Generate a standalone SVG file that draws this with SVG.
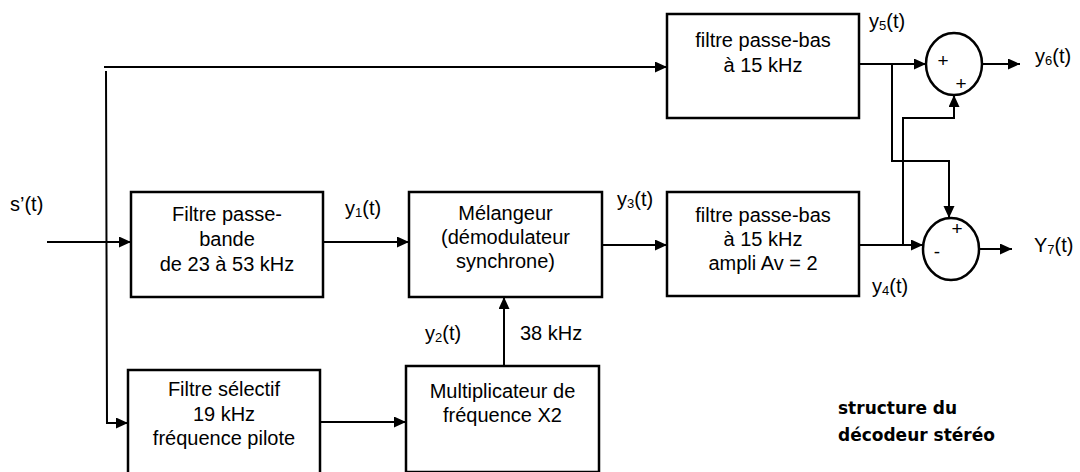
<svg xmlns="http://www.w3.org/2000/svg" width="1080" height="472" viewBox="0 0 1080 472">
<style>
.box{fill:#fff;stroke:#000;stroke-width:2.5}
.sum{fill:#fff;stroke:#000;stroke-width:2.5}
.ln{fill:none;stroke:#000;stroke-width:2}
text{font-family:"Liberation Sans",Arial,sans-serif;font-size:20px;fill:#000}
.c{text-anchor:middle}
.sub{font-size:13px}
.sg{font-size:19px}
.note{font-family:"Comic Sans MS","DejaVu Sans",sans-serif;font-weight:bold;font-size:17px}
</style>
<defs>
<marker id="ah" markerUnits="userSpaceOnUse" markerWidth="13" markerHeight="12" refX="12" refY="5.5" orient="auto">
<path d="M0,0 L12,5.5 L0,11 z" fill="#000"/>
</marker>
</defs>
<rect width="1080" height="472" fill="#fff"/>
<g id="connectors">
<line class="ln" x1="47" y1="242" x2="131" y2="242" marker-end="url(#ah)"/>
<line class="ln" x1="104" y1="67" x2="667" y2="67" marker-end="url(#ah)"/>
<path class="ln" d="M106,71 L107,423 L128,423" marker-end="url(#ah)"/>
<line class="ln" x1="323" y1="242" x2="409" y2="242" marker-end="url(#ah)"/>
<line class="ln" x1="602" y1="245" x2="667" y2="245" marker-end="url(#ah)"/>
<line class="ln" x1="320" y1="422" x2="406" y2="422" marker-end="url(#ah)"/>
<line class="ln" x1="504" y1="366" x2="504" y2="297" marker-end="url(#ah)"/>
<line class="ln" x1="859" y1="64" x2="926" y2="64" marker-end="url(#ah)"/>
<path class="ln" d="M892,64 L892,161 L949,161 L949,218" marker-end="url(#ah)"/>
<line class="ln" x1="859" y1="245" x2="923" y2="245" marker-end="url(#ah)"/>
<path class="ln" d="M903,245 L903,118 L954,118 L954,95" marker-end="url(#ah)"/>
<line class="ln" x1="982" y1="64" x2="1020" y2="64" marker-end="url(#ah)"/>
<line class="ln" x1="979" y1="249" x2="1012" y2="249" marker-end="url(#ah)"/>
</g>
<g id="lpf-top">
<rect class="box" x="667" y="14" width="192" height="104"/>
<text class="c" x="763" y="47">filtre passe-bas</text>
<text class="c" x="763" y="72">à 15 kHz</text>
</g>
<g id="bpf">
<rect class="box" x="131" y="192" width="192" height="105"/>
<text class="c" x="227" y="221">Filtre passe-</text>
<text class="c" x="227" y="246">bande</text>
<text class="c" x="227" y="271">de 23 à 53 kHz</text>
</g>
<g id="mixer">
<rect class="box" x="409" y="192" width="193" height="105"/>
<text class="c" x="505.5" y="220">Mélangeur</text>
<text class="c" x="505.5" y="244">(démodulateur</text>
<text class="c" x="505.5" y="268">synchrone)</text>
</g>
<g id="lpf-amp">
<rect class="box" x="667" y="192" width="192" height="104"/>
<text class="c" x="763" y="222">filtre passe-bas</text>
<text class="c" x="763" y="246">à 15 kHz</text>
<text class="c" x="763" y="270">ampli Av = 2</text>
</g>
<g id="selective">
<rect class="box" x="128" y="370" width="192" height="110"/>
<text class="c" x="224" y="396">Filtre sélectif</text>
<text class="c" x="224" y="421">19 kHz</text>
<text class="c" x="224" y="445">fréquence pilote</text>
</g>
<g id="multiplier">
<rect class="box" x="406" y="366" width="193" height="106"/>
<text class="c" x="502.5" y="398">Multiplicateur de</text>
<text class="c" x="502.5" y="422">fréquence X2</text>
</g>
<g id="sum1">
<ellipse class="sum" cx="954" cy="64" rx="28" ry="31"/>
<text class="c sg" x="943" y="67">+</text>
<text class="c sg" x="961" y="90">+</text>
</g>
<g id="sum2">
<ellipse class="sum" cx="951" cy="249" rx="28" ry="31"/>
<text class="c sg" x="957" y="235">+</text>
<text class="c sg" x="937" y="258">-</text>
</g>
<g id="labels">
<text x="10" y="211">s’(t)</text>
<text x="345" y="215">y<tspan class="sub" dy="2">1</tspan><tspan dy="-2">(t)</tspan></text>
<text x="425" y="340">y<tspan class="sub" dy="2">2</tspan><tspan dy="-2">(t)</tspan></text>
<text x="520" y="340">38 kHz</text>
<text x="617" y="206">y<tspan class="sub" dy="2">3</tspan><tspan dy="-2">(t)</tspan></text>
<text x="872" y="293">y<tspan class="sub" dy="2">4</tspan><tspan dy="-2">(t)</tspan></text>
<text x="869" y="28">y<tspan class="sub" dy="2">5</tspan><tspan dy="-2">(t)</tspan></text>
<text x="1035" y="63">y<tspan class="sub" dy="2">6</tspan><tspan dy="-2">(t)</tspan></text>
<text x="1034" y="252">Y<tspan class="sub" dy="2">7</tspan><tspan dy="-2">(t)</tspan></text>
<text class="note" x="838" y="414">structure du</text>
<text class="note" x="838" y="441">décodeur stéréo</text>
</g>
</svg>
